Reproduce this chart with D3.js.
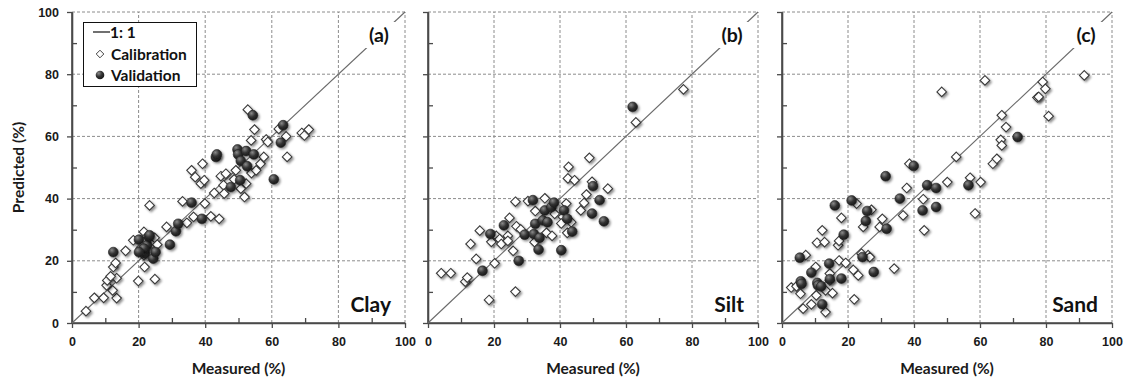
<!DOCTYPE html>
<html>
<head>
<meta charset="utf-8">
<script src="https://cdn.jsdelivr.net/npm/d3@7"></script>
<style>
  body { margin: 0; background: #fff; }
  svg { display: block; font-family: Lato, "Open Sans", sans-serif; }
</style>
</head>
<body>
<svg id="chart" width="1128" height="378"></svg>
<script>
"use strict"

// [measured, predicted] pairs
const clayCal = [
  [4.2,3.8],[6.7,8.1],[9.5,8.1],[13.4,8.0],[12.2,10.5],[10.4,12.1],[10.6,13.7],[13.4,14.4],
  [11.6,15.0],[12.4,18.0],[13.1,19.3],[16.1,23.2],[18.4,26.6],[19.9,13.5],[21.8,18.0],[21.6,21.8],
  [23.3,37.8],[21.6,29.3],[24.8,27.4],[25.6,25.2],[24.9,14.1],[22.6,27.9],[28.4,30.9],[33.2,39.1],
  [34.5,32.2],[36.5,34.1],[35.9,49.1],[37.0,46.9],[38.7,44.8],[39.2,51.2],[39.7,45.9],[39.9,38.4],
  [41.7,34.3],[42.7,41.8],[44.2,33.5],[44.7,47.2],[45.5,44.3],[45.7,41.6],[46.2,48.0],[48.7,46.2],
  [49.2,49.1],[50.7,43.2],[52.3,44.8],[51.8,40.5],[52.8,68.6],[53.8,58.7],[53.9,48.2],[54.8,62.2],
  [55.3,49.1],[56.6,51.2],[57.6,53.4],[58.3,59.0],[58.8,58.2],[62.1,62.4],[64.3,60.0],[64.6,53.4],
  [69.0,61.1],[69.8,60.3],[71.1,62.2]
]
const clayVal = [
  [12.4,22.8],[20.1,26.8],[20.6,23.6],[21.9,22.3],[22.6,25.0],[23.1,27.7],[23.3,28.2],[24.4,20.7],
  [25.1,22.8],[21.6,23.9],[20.1,22.8],[29.4,25.2],[31.2,29.5],[31.9,31.9],[35.9,38.7],[39.0,33.5],
  [43.2,53.4],[43.5,54.2],[47.7,43.7],[49.7,55.8],[49.9,54.2],[50.5,45.9],[50.7,52.1],[52.3,55.3],
  [52.6,50.4],[54.6,54.2],[54.3,66.8],[60.6,46.2],[62.7,58.0],[63.4,63.6]
]
const siltCal = [
  [4.0,16.0],[6.9,16.0],[11.3,13.3],[11.9,14.6],[12.9,25.4],[14.6,20.6],[15.7,29.7],[18.5,7.4],
  [20.2,19.2],[19.2,26.1],[20.7,28.0],[21.7,27.0],[22.2,25.4],[24.2,28.0],[24.7,33.8],[25.8,23.2],
  [26.5,39.0],[26.8,31.1],[26.5,10.1],[24.2,26.4],[28.1,30.1],[30.3,39.2],[32.5,36.0],[32.3,26.0],
  [35.4,40.1],[35.9,29.0],[37.6,28.0],[38.4,35.1],[40.9,34.1],[41.9,38.4],[42.4,46.5],[42.2,29.0],
  [44.4,45.9],[46.3,36.2],[47.3,38.6],[48.0,41.3],[49.7,45.4],[54.5,43.2],[40.4,32.0],[43.4,32.4],
  [42.6,50.2],[48.9,53.1],[63.0,64.5],[77.4,75.1]
]
const siltVal = [
  [16.5,16.8],[18.9,28.6],[23.0,31.4],[27.5,20.0],[29.3,28.4],[31.8,39.5],[32.1,28.6],[32.5,31.9],
  [33.8,27.4],[33.5,23.6],[34.8,33.0],[35.4,36.2],[36.2,32.4],[37.4,37.3],[38.2,38.7],[40.4,23.4],
  [41.2,36.2],[42.2,33.5],[43.7,29.4],[50.0,44.0],[52.0,39.5],[49.7,35.2],[53.3,32.7],[62.0,69.5]
]
const sandCal = [
  [2.8,11.4],[4.4,11.8],[5.6,9.4],[6.4,4.6],[7.2,21.8],[8.9,6.0],[10.2,18.0],[10.4,8.9],
  [10.6,25.8],[12.2,29.8],[12.9,26.0],[13.2,3.5],[13.2,10.5],[14.5,15.9],[14.5,13.7],[15.3,9.6],
  [17.0,25.0],[17.3,26.4],[17.3,20.1],[18.0,33.8],[19.3,19.3],[21.6,17.1],[21.9,7.6],[22.6,38.4],
  [23.1,15.3],[24.1,22.3],[24.6,30.9],[26.1,21.8],[26.6,21.2],[27.1,36.4],[29.6,30.9],[30.4,33.5],
  [34.0,17.5],[36.7,34.6],[37.8,43.4],[38.6,51.2],[42.8,39.8],[43.1,29.8],[48.4,74.3],[50.1,45.3],
  [52.8,53.4],[57.0,46.7],[58.5,35.2],[60.2,45.3],[61.5,78.0],[63.9,51.2],[65.1,52.8],[66.3,58.9],
  [66.6,57.1],[66.6,66.8],[67.9,63.0],[77.4,72.5],[77.8,72.7],[79.0,77.5],[79.8,75.3],[80.8,66.5],
  [91.6,79.6]
]
const sandVal = [
  [5.4,21.0],[5.7,13.4],[5.9,12.6],[8.9,16.2],[10.7,12.9],[10.9,12.1],[11.9,11.8],[12.2,6.0],
  [14.3,19.1],[14.5,14.1],[18.0,14.3],[16.0,37.8],[18.7,28.4],[21.1,39.4],[24.4,21.2],[25.4,32.8],
  [25.8,36.0],[27.8,16.4],[31.4,47.2],[31.7,30.3],[35.7,40.0],[39.9,50.5],[42.6,36.2],[44.0,44.3],
  [46.7,43.4],[46.7,37.3],[56.5,44.3],[71.4,59.8]
]

const majorTicks = [0, 20, 40, 60, 80, 100]
const minorTicks = [10, 30, 50, 70, 90]
const panelTags = ["(a)", "(b)", "(c)"]
const panelNames = ["Clay", "Silt", "Sand"]
const legendLabels = ["1: 1", "Calibration", "Validation"]

const svg = d3.select("#chart")
const plotTop = 12, plotBottom = 323
const panelBounds = [[72, 405], [428, 758], [782, 1112]]
const panelData = [[clayCal, clayVal], [siltCal, siltVal], [sandCal, sandVal]]

// Shadow + shading defs
const defs = svg.append("defs")
defs.append("filter").attr("id", "shadow")
    .attr("x", "-50%").attr("y", "-50%").attr("width", "200%").attr("height", "200%")
  .append("feDropShadow")
    .attr("dx", 1.6).attr("dy", 1.6).attr("stdDeviation", 1)
    .attr("flood-color", "#000").attr("flood-opacity", 0.45)
const grad = defs.append("radialGradient").attr("id", "ball")
    .attr("cx", "35%").attr("cy", "30%").attr("r", "70%")
grad.append("stop").attr("offset", "0%").attr("stop-color", "#8a8a8a")
grad.append("stop").attr("offset", "55%").attr("stop-color", "#333")
grad.append("stop").attr("offset", "100%").attr("stop-color", "#1a1a1a")

const diamond = "M0,-4.8L4.8,0L0,4.8L-4.8,0Z"

function renderPanel(i) {
    const [left, right] = panelBounds[i]
    const x = d3.scaleLinear().domain([0, 100]).range([left, right])
    const y = d3.scaleLinear().domain([0, 100]).range([plotBottom, plotTop])
    const g = svg.append("g")

    // dashed grid
    const grid = g.append("g").attr("stroke", "#8c8c8c").attr("stroke-dasharray", "3,2").attr("stroke-width", 1)
    grid.selectAll(".vg").data(majorTicks.slice(1)).enter().append("line")
        .attr("x1", d => x(d)).attr("x2", d => x(d)).attr("y1", y(0)).attr("y2", y(100))
    grid.selectAll(".hg").data(majorTicks.slice(1)).enter().append("line")
        .attr("y1", d => y(d)).attr("y2", d => y(d)).attr("x1", x(0)).attr("x2", x(100))

    // axes
    const xAxis = g.append("g").attr("transform", "translate(0," + plotBottom + ")")
        .call(d3.axisBottom(x).tickValues(majorTicks).tickSize(5).tickPadding(9).tickFormat(d3.format("d")))
    g.append("g").attr("transform", "translate(0," + plotBottom + ")")
        .call(d3.axisBottom(x).tickValues(minorTicks).tickSizeInner(-5).tickSizeOuter(0).tickFormat(""))
    const yAxis = g.append("g").attr("transform", "translate(" + left + ",0)")
        .call(d3.axisLeft(y).tickValues(majorTicks).tickSize(5).tickPadding(8)
            .tickFormat(i === 0 ? d3.format("d") : ""))
    g.append("g").attr("transform", "translate(" + left + ",0)")
        .call(d3.axisLeft(y).tickValues(minorTicks).tickSizeInner(-5).tickSizeOuter(0).tickFormat(""))

    g.selectAll(".domain").attr("stroke", "#4a4a4a").attr("stroke-width", 1.6)
    g.selectAll(".tick line").attr("stroke", "#4a4a4a").attr("stroke-width", 1.3)
    g.selectAll(".tick text").attr("fill", "#1a1a1a").style("font-size", "12.5px").style("font-weight", "900")
    xAxis.select(".domain").attr("d", "M" + left + ",0H" + right)
    yAxis.select(".domain").attr("d", "M0," + plotBottom + "V" + plotTop)

    // 1:1 line
    g.append("line")
        .attr("x1", x(0)).attr("y1", y(0)).attr("x2", x(100)).attr("y2", y(100))
        .attr("stroke", "#6a6a6a").attr("stroke-width", 1.1)

    const [cal, val] = panelData[i]
    g.selectAll(".cal").data(cal).enter().append("path")
        .attr("class", "cal")
        .attr("d", diamond)
        .attr("transform", d => "translate(" + x(d[0]) + "," + y(d[1]) + ")")
        .attr("fill", "#fff").attr("stroke", "#3a3a3a").attr("stroke-width", 1.1)
        .attr("filter", "url(#shadow)")
    g.selectAll(".val").data(val).enter().append("circle")
        .attr("class", "val")
        .attr("cx", d => x(d[0])).attr("cy", d => y(d[1])).attr("r", 4.9)
        .attr("fill", "url(#ball)").attr("stroke", "#222").attr("stroke-width", 0.6)
        .attr("filter", "url(#shadow)")

    // panel tag with white backing over the 1:1 line
    const tagX = right - 26, tagY = 35
    g.append("rect").attr("x", tagX - 19).attr("y", tagY - 13).attr("width", 40).attr("height", 26).attr("fill", "#fff")
    g.append("text").attr("x", tagX).attr("y", tagY).attr("dy", "0.36em")
        .attr("text-anchor", "middle").attr("fill", "#111")
        .style("font-size", "19.5px").style("font-weight", "bold").text(panelTags[i])

    g.append("text").attr("x", right - 14).attr("y", 312)
        .attr("text-anchor", "end").attr("fill", "#111")
        .style("font-size", "21px").style("font-weight", "bold").text(panelNames[i])

    g.append("text").attr("x", (left + right) / 2).attr("y", 374)
        .attr("text-anchor", "middle").attr("fill", "#1a1a1a")
        .style("font-size", "15.5px").style("font-weight", "bold").text("Measured (%)")
}

for (let i = 0; i < 3; ++i) renderPanel(i)

svg.append("text")
    .attr("transform", "translate(24," + ((plotTop + plotBottom) / 2) + ") rotate(-90)")
    .attr("text-anchor", "middle").attr("fill", "#1a1a1a")
    .style("font-size", "15.5px").style("font-weight", "bold").text("Predicted (%)")

// legend
const legend = svg.append("g")
legend.append("rect").attr("x", 83.5).attr("y", 22.5).attr("width", 113).attr("height", 64)
    .attr("fill", "#fff").attr("stroke", "#111").attr("stroke-width", 1)
legend.append("line").attr("x1", 93).attr("x2", 110).attr("y1", 32).attr("y2", 32)
    .attr("stroke", "#111").attr("stroke-width", 1.2)
legend.append("path").attr("d", "M0,-3.8L3.8,0L0,3.8L-3.8,0Z")
    .attr("transform", "translate(100,54)")
    .attr("fill", "#fff").attr("stroke", "#444").attr("stroke-width", 1)
legend.append("circle").attr("cx", 100).attr("cy", 75).attr("r", 4.3).attr("fill", "url(#ball)")
legend.selectAll(".lt").data(legendLabels).enter().append("text")
    .attr("x", (d, i) => i === 0 ? 110 : 111)
    .attr("y", (d, i) => [32, 54, 75][i]).attr("dy", "0.36em")
    .attr("fill", "#111").style("font-size", "15.5px").style("font-weight", "bold")
    .text(d => d)
</script>
</body>
</html>
